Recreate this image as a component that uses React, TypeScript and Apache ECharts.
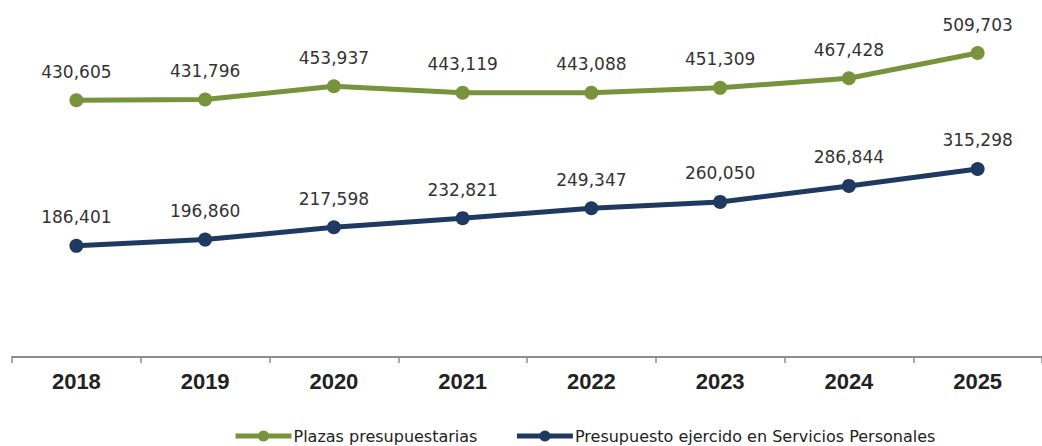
import React, { useEffect, useRef } from "react";
import * as echarts from "echarts";

const years = ["2018", "2019", "2020", "2021", "2022", "2023", "2024", "2025"];
const plazas = [430605, 431796, 453937, 443119, 443088, 451309, 467428, 509703];
const presupuesto = [186401, 196860, 217598, 232821, 249347, 260050, 286844, 315298];
const seriesNames = ["Plazas presupuestarias", "Presupuesto ejercido en Servicios Personales"];

const GREEN = "#77933C";
const NAVY = "#1F3A60";

const fmt = (v: number) => v.toLocaleString("en-US");

export default function App() {
  const ref = useRef<HTMLDivElement>(null);
  useEffect(() => {
    document.body.style.margin = "0";
    if (!ref.current) return;
    const chart = echarts.init(ref.current, undefined, { renderer: "svg" });
    const labelCfg = {
      show: true,
      position: "top" as const,
      distance: 13,
      fontFamily: "DejaVu Sans",
      fontSize: 17,
      color: "#333333",
      formatter: (p: any) => fmt(p.value),
    };
    chart.setOption({
      animation: false,
      backgroundColor: "#ffffff",
      grid: { left: 12, top: 29, width: 1038, height: 328 },
      legend: {
        left: 233,
        top: 428,
        padding: 0,
        itemWidth: 56,
        itemHeight: 14,
        itemGap: 37,
        lineStyle: { width: 5 },
        textStyle: { fontFamily: "DejaVu Sans", fontSize: 16, color: "#222222", padding: [0, 0, 0, -3] },
        data: seriesNames,
      },
      xAxis: {
        type: "category",
        data: years,
        boundaryGap: true,
        axisLine: { show: true, lineStyle: { color: "#8c8c8c", width: 2 } },
        axisTick: { show: true, length: 6, lineStyle: { color: "#8c8c8c", width: 1.5 } },
        axisLabel: {
          margin: 13,
          fontFamily: "Liberation Sans",
          fontSize: 22,
          fontWeight: "bold",
          color: "#222222",
        },
      },
      yAxis: {
        type: "value",
        min: 0,
        max: 550000,
        show: false,
        splitLine: { show: false },
      },
      series: [
        {
          name: seriesNames[0],
          type: "line",
          data: plazas,
          symbol: "circle",
          symbolSize: 14,
          lineStyle: { color: GREEN, width: 5 },
          itemStyle: { color: GREEN },
          label: labelCfg,
        },
        {
          name: seriesNames[1],
          type: "line",
          data: presupuesto,
          symbol: "circle",
          symbolSize: 14,
          lineStyle: { color: NAVY, width: 5 },
          itemStyle: { color: NAVY },
          label: labelCfg,
        },
      ],
    });
    return () => chart.dispose();
  }, []);
  return <div ref={ref} style={{ width: 1042, height: 446 }} />;
}
